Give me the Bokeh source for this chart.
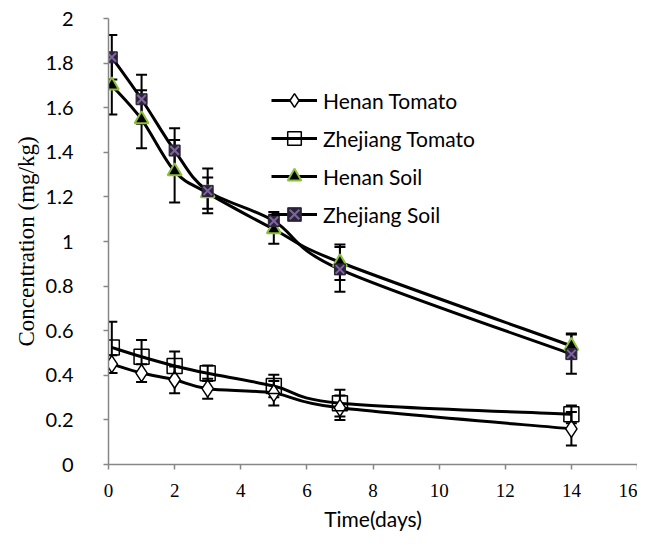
import numpy as np
from bokeh.plotting import figure
from bokeh.models import (ColumnDataSource, Whisker, TeeHead, Legend, LegendItem,
                          FixedTicker, Range1d)
from bokeh.embed import file_html
from bokeh.resources import INLINE

# ---------------- data ----------------
days = [0.1, 1, 2, 3, 5, 7, 14]
henan_tomato = [0.45, 0.41, 0.38, 0.34, 0.32, 0.254, 0.16]
henan_tomato_err = [0.04, 0.04, 0.06, 0.045, 0.055, 0.055, 0.075]
zhejiang_tomato = [0.525, 0.483, 0.442, 0.409, 0.352, 0.275, 0.225]
zhejiang_tomato_err = [0.115, 0.075, 0.065, 0.035, 0.05, 0.06, 0.04]
henan_soil = [1.70, 1.548, 1.315, 1.217, 1.055, 0.907, 0.532]
henan_soil_err = [0.13, 0.13, 0.14, 0.07, 0.065, 0.08, 0.055]
zhejiang_soil = [1.826, 1.638, 1.408, 1.227, 1.092, 0.875, 0.495]
zhejiang_soil_err = [0.10, 0.11, 0.10, 0.10, 0.04, 0.10, 0.088]

series_names = ["Henan Tomato", "Zhejiang Tomato", "Henan Soil", "Zhejiang Soil"]
x_ticks = [0, 2, 4, 6, 8, 10, 12, 14, 16]
y_ticks = [0, 0.2, 0.4, 0.6, 0.8, 1.0, 1.2, 1.4, 1.6, 1.8, 2.0]
y_tick_labels = ["0", "0.2", "0.4", "0.6", "0.8", "1", "1.2", "1.4", "1.6", "1.8", "2"]

AXIS_GREY = "#868686"

p = figure(width=637, height=534, output_backend="svg", toolbar_location=None,
           x_range=Range1d(0, 16), y_range=Range1d(0, 2),
           min_border_left=108, min_border_right=0, min_border_top=18,
           min_border_bottom=70)
p.outline_line_color = None
p.xgrid.visible = False
p.ygrid.visible = False
p.background_fill_color = "white"

for ax in (p.xaxis[0], p.yaxis[0]):
    ax.axis_line_color = AXIS_GREY
    ax.axis_line_width = 1.5
    ax.major_tick_line_color = AXIS_GREY
    ax.major_tick_line_width = 1.5
    ax.major_tick_in = 0
    ax.major_tick_out = 5
    ax.minor_tick_line_color = None
    ax.major_label_text_color = "black"
    ax.axis_label_text_color = "black"
    ax.axis_label_text_font_style = "normal"

p.xaxis.ticker = FixedTicker(ticks=x_ticks)
p.xaxis.major_label_text_font = "Liberation Serif"
p.xaxis.major_label_text_font_size = "19px"
p.xaxis.major_label_standoff = 14
p.xaxis.axis_label = "Time(days)"
p.xaxis.axis_label_text_font = "Lato"
p.xaxis.axis_label_text_font_size = "21px"
p.xaxis.axis_label_standoff = 6

p.yaxis.ticker = FixedTicker(ticks=y_ticks)
p.yaxis.major_label_overrides = {t: l for t, l in zip(y_ticks, y_tick_labels)}
p.yaxis.major_label_text_font = "Lato"
p.yaxis.major_label_text_font_size = "20px"
p.yaxis.major_label_standoff = 30
p.yaxis.axis_label = "Concentration (mg/kg)"
p.yaxis.axis_label_text_font = "Liberation Serif"
p.yaxis.axis_label_text_font_size = "23px"
p.yaxis.axis_label_standoff = 4


def smooth_source(xs, ys):
    """Bezier segments (Catmull-Rom style smoothing, like a spreadsheet 'smoothed line')."""
    x = np.asarray(xs, float)
    y = np.asarray(ys, float)
    n = len(x)
    x0, y0, x1, y1, cx0, cy0, cx1, cy1 = ([] for _ in range(8))
    for i in range(n - 1):
        im1 = max(i - 1, 0)
        ip2 = min(i + 2, n - 1)
        x0.append(x[i]); y0.append(y[i]); x1.append(x[i + 1]); y1.append(y[i + 1])
        cx0.append(x[i] + (x[i + 1] - x[im1]) / 6.0)
        cy0.append(y[i] + (y[i + 1] - y[im1]) / 6.0)
        cx1.append(x[i + 1] - (x[ip2] - x[i]) / 6.0)
        cy1.append(y[i + 1] - (y[ip2] - y[i]) / 6.0)
    return ColumnDataSource(dict(x0=x0, y0=y0, x1=x1, y1=y1,
                                 cx0=cx0, cy0=cy0, cx1=cx1, cy1=cy1))


all_vals = [henan_tomato, zhejiang_tomato, henan_soil, zhejiang_soil]
all_errs = [henan_tomato_err, zhejiang_tomato_err, henan_soil_err, zhejiang_soil_err]

# error bars
for vals, errs in zip(all_vals, all_errs):
    src = ColumnDataSource(dict(x=days,
                                upper=[v + e for v, e in zip(vals, errs)],
                                lower=[v - e for v, e in zip(vals, errs)]))
    w = Whisker(base="x", upper="upper", lower="lower", source=src,
                dimension="height", line_color="black", line_width=2,
                upper_head=TeeHead(size=11, line_color="black", line_width=2),
                lower_head=TeeHead(size=11, line_color="black", line_width=2))
    p.add_layout(w)

# smoothed connecting lines
for vals in all_vals:
    p.bezier(x0="x0", y0="y0", x1="x1", y1="y1", cx0="cx0", cy0="cy0",
             cx1="cx1", cy1="cy1", source=smooth_source(days, vals),
             line_color="black", line_width=3)

# legend line renderers (a single point each, so nothing visible in the plot)
leg_lines = [p.line(x=days[:1], y=vals[:1], line_color="black", line_width=3)
             for vals in all_vals]

m1 = p.scatter(x=days, y=henan_tomato, marker="diamond", size=17,
               fill_color="white", line_color="black", line_width=1.5)
m2 = p.scatter(x=days, y=zhejiang_tomato, marker="square", size=15,
               fill_color="white", fill_alpha=0.0, line_color="black", line_width=1.5)
m3 = p.scatter(x=days, y=henan_soil, marker="triangle", size=14,
               fill_color="black", line_color="#8cbf3f", line_width=2)
m4a = p.scatter(x=days, y=zhejiang_soil, marker="square", size=11,
                fill_color="#2a2438", line_color="#2a2438", line_width=1)
m4b = p.scatter(x=days, y=zhejiang_soil, marker="x", size=12,
                line_color="#8064a2", line_width=2)

legend_items = [
    LegendItem(label=series_names[0], renderers=[leg_lines[0], m1]),
    LegendItem(label=series_names[1], renderers=[leg_lines[1], m2]),
    LegendItem(label=series_names[2], renderers=[leg_lines[2], m3]),
    LegendItem(label=series_names[3], renderers=[leg_lines[3], m4a, m4b]),
]

legend = Legend(items=legend_items, location=(163, 233),
                glyph_width=46, glyph_height=34, spacing=4, padding=0, margin=0,
                label_standoff=6, label_text_font="Lato", label_text_font_size="21px",
                label_text_color="black", border_line_color=None,
                background_fill_alpha=0)
p.add_layout(legend, "center")

open("out.html", "w").write(file_html(p, INLINE))
